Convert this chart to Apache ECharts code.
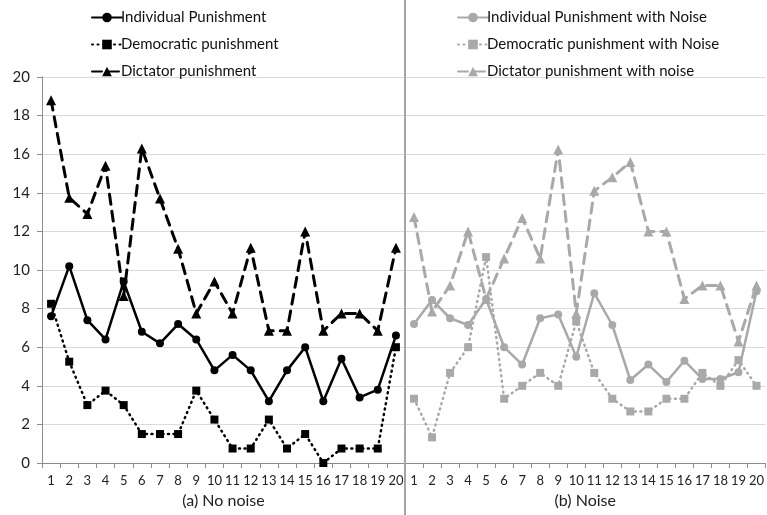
<!DOCTYPE html>
<html>
<head>
<meta charset="utf-8">
<script src="https://cdn.jsdelivr.net/npm/echarts@6/dist/echarts.min.js"></script>
<style>
  html, body { margin: 0; padding: 0; background: #fff; }
  #chart { width: 767px; height: 515px; }
</style>
</head>
<body>
<div id="chart"></div>
<script>
// rounds 1..20, same for both panels
const rounds = ["1","2","3","4","5","6","7","8","9","10","11","12","13","14","15","16","17","18","19","20"];

// (a) no noise
const individual = [7.6, 10.2, 7.4, 6.4, 9.4, 6.8, 6.2, 7.2, 6.4, 4.8, 5.6, 4.8, 3.2, 4.8, 6.0, 3.2, 5.4, 3.4, 3.8, 6.6];
const democratic = [8.25, 5.25, 3.0, 3.75, 3.0, 1.5, 1.5, 1.5, 3.75, 2.25, 0.75, 0.75, 2.25, 0.75, 1.5, 0, 0.75, 0.75, 0.75, 6.0];
const dictator = [18.8, 13.75, 12.9, 15.4, 8.65, 16.3, 13.7, 11.1, 7.75, 9.4, 7.75, 11.15, 6.85, 6.85, 12.0, 6.85, 7.75, 7.75, 6.85, 11.15];

// (b) noise
const individualNoise = [7.2, 8.45, 7.5, 7.15, 8.5, 6.0, 5.1, 7.5, 7.7, 5.5, 8.8, 7.15, 4.3, 5.1, 4.2, 5.3, 4.35, 4.35, 4.7, 8.9];
const democraticNoise = [3.33, 1.33, 4.67, 6.0, 10.67, 3.33, 4.0, 4.67, 4.0, 7.33, 4.67, 3.33, 2.67, 2.67, 3.33, 3.33, 4.67, 4.0, 5.33, 4.0];
const dictatorNoise = [12.75, 7.85, 9.2, 12.0, 8.5, 10.6, 12.7, 10.6, 16.25, 7.75, 14.1, 14.8, 15.6, 12.0, 12.0, 8.5, 9.2, 9.2, 6.3, 9.2];

const yTicks = { min: 0, max: 20, interval: 2 };

const BLACK = "#000000";
const GREY = "#a9a9a9";
const FONT = "Lato";

const chart = echarts.init(document.getElementById("chart"), null, { renderer: "canvas" });

const xAxisCommon = (name) => ({
  type: "category",
  data: rounds,
  boundaryGap: true,
  name: name,
  nameLocation: "middle",
  nameGap: 30,
  nameTextStyle: { fontFamily: FONT, fontSize: 16, color: "#222" },
  axisLine: { show: true, lineStyle: { color: "#8c8c8c", width: 1 } },
  axisTick: { show: true, length: 5, inside: false, lineStyle: { color: "#8c8c8c" } },
  axisLabel: { interval: 0, margin: 11, fontFamily: FONT, fontSize: 13, color: "#222" }
});

const mkLine = (name, data, color, type, symbol, size, width, idx) => ({
  name: name,
  type: "line",
  xAxisIndex: idx,
  yAxisIndex: idx,
  data: data,
  symbol: symbol,
  symbolSize: size,
  showAllSymbol: true,
  itemStyle: { color: color },
  lineStyle: { color: color, width: width, type: type, cap: "round" },
  emphasis: { disabled: true },
  animation: false
});

const legendCommon = {
  orient: "vertical",
  top: 5,
  itemWidth: 30,
  itemHeight: 12,
  itemGap: 12,
  textStyle: { fontFamily: FONT, fontSize: 15, color: "#111", padding: [0, 0, 0, -6] }
};

const option = {
  backgroundColor: "#fff",
  animation: false,
  textStyle: { fontFamily: FONT },
  grid: [
    { left: 42, right: 362, top: 77, bottom: 52 },
    { left: 405, right: 0, top: 77, bottom: 52 }
  ],
  legend: [
    Object.assign({}, legendCommon, {
      left: 86,
      data: ["Individual Punishment", "Democratic punishment", "Dictator punishment"]
    }),
    Object.assign({}, legendCommon, {
      left: 452,
      data: ["Individual Punishment with Noise", "Democratic punishment with Noise", "Dictator punishment with noise"]
    })
  ],
  xAxis: [
    Object.assign(xAxisCommon("(a) No noise"), { gridIndex: 0 }),
    Object.assign(xAxisCommon("(b) Noise"), { gridIndex: 1 })
  ],
  yAxis: [
    {
      type: "value",
      gridIndex: 0,
      min: yTicks.min,
      max: yTicks.max,
      interval: yTicks.interval,
      axisLine: { show: true, lineStyle: { color: "#8c8c8c", width: 1 } },
      axisTick: { show: true, length: 5, lineStyle: { color: "#8c8c8c" } },
      axisLabel: { margin: 12, fontFamily: FONT, fontSize: 15, color: "#222" },
      splitLine: { show: true, lineStyle: { color: "#dadada", width: 1 } }
    },
    {
      type: "value",
      gridIndex: 1,
      min: yTicks.min,
      max: yTicks.max,
      interval: yTicks.interval,
      axisLine: { show: false },
      axisTick: { show: false },
      axisLabel: { show: false },
      splitLine: { show: true, lineStyle: { color: "#dadada", width: 1 } }
    }
  ],
  graphic: [
    {
      type: "line",
      shape: { x1: 405, y1: 0, x2: 405, y2: 515 },
      style: { stroke: "#a6a6a6", lineWidth: 2 },
      z: 10
    }
  ],
  series: [
    mkLine("Individual Punishment", individual, BLACK, "solid", "circle", 8, 2.5, 0),
    mkLine("Democratic punishment", democratic, BLACK, [1, 4.5], "rect", 8, 2.5, 0),
    mkLine("Dictator punishment", dictator, BLACK, [10, 7], "triangle", 10, 3, 0),
    mkLine("Individual Punishment with Noise", individualNoise, GREY, "solid", "circle", 8, 2.5, 1),
    mkLine("Democratic punishment with Noise", democraticNoise, GREY, [1, 4.5], "rect", 8, 2.5, 1),
    mkLine("Dictator punishment with noise", dictatorNoise, GREY, [10, 7], "triangle", 10, 3, 1)
  ]
};

chart.setOption(option);
</script>
</body>
</html>
